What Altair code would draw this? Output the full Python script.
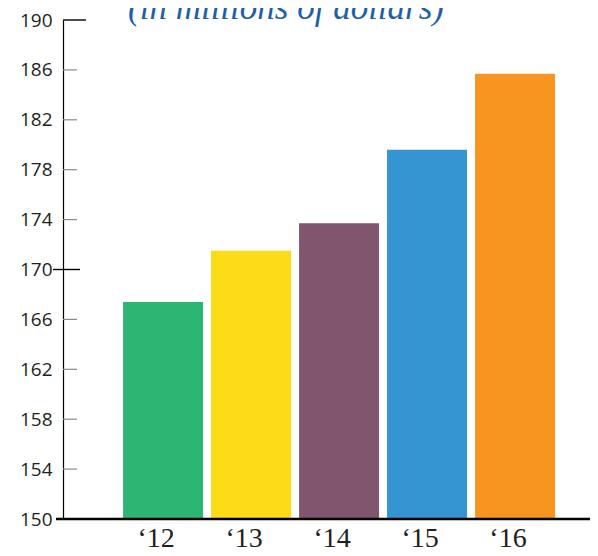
import altair as alt
import pandas as pd

years = ["\u201812", "\u201813", "\u201814", "\u201815", "\u201816"]
values = [167.4, 171.5, 173.7, 179.6, 185.7]
colors = ["#2db673", "#fddc17", "#82556f", "#3595d2", "#f79520"]
y_ticks = [150, 154, 158, 162, 166, 170, 174, 178, 182, 186, 190]
minor_ticks = [154, 158, 162, 166, 174, 178, 182, 186]
title_text = "(in millions of dollars)"

df = pd.DataFrame({"year": years, "value": values})

W, H = 527, 499

yscale = alt.Scale(domain=[150, 190], nice=False, zero=False)

bars = alt.Chart(df).mark_bar(clip=True).encode(
    x=alt.X("year:N", sort=years,
            scale=alt.Scale(paddingInner=0.0909, paddingOuter=0.540, align=0.632),
            axis=alt.Axis(title=None, domain=False, ticks=False, labelAngle=0,
                          labelFont="Liberation Serif", labelFontSize=28,
                          labelColor="#231f20", labelPadding=5, labelOffset=-7)),
    y=alt.Y("value:Q", scale=yscale,
            axis=alt.Axis(title=None, values=y_ticks, ticks=False, grid=False,
                          domainColor="#000000", domainWidth=1.2,
                          labelFont="Open Sans", labelFontSize=19,
                          labelColor="#231f20", labelPadding=11)),
    y2=alt.datum(150),
    color=alt.Color("year:N", scale=alt.Scale(domain=years, range=colors), legend=None),
)

minor = alt.Chart(pd.DataFrame({"v": minor_ticks})).mark_rule(color="#8a8a8a", strokeWidth=1.2).encode(
    y=alt.Y("v:Q", scale=yscale), x=alt.value(0), x2=alt.value(14)
)

top_tick = alt.Chart(pd.DataFrame({"v": [190]})).mark_rule(color="#000000", strokeWidth=1.4).encode(
    y=alt.Y("v:Q", scale=yscale), x=alt.value(0), x2=alt.value(23)
)

mid_tick = alt.Chart(pd.DataFrame({"v": [170]})).mark_rule(color="#000000", strokeWidth=1.4).encode(
    y=alt.Y("v:Q", scale=yscale), x=alt.value(-10), x2=alt.value(17)
)

base_line = alt.Chart(pd.DataFrame({"v": [150]})).mark_rule(color="#000000", strokeWidth=2.6).encode(
    y=alt.Y("v:Q", scale=yscale), x=alt.value(-7), x2=alt.value(W)
)

title = alt.Chart(pd.DataFrame({"t": [title_text]})).mark_text(
    font="Liberation Serif", fontStyle="italic", fontSize=35, color="#1d5fa9",
    align="center", baseline="alphabetic"
).encode(text="t:N", x=alt.value(223), y=alt.value(-1))

chart = alt.layer(bars, minor, top_tick, mid_tick, base_line, title).properties(
    width=W, height=H,
    autosize=alt.AutoSizeParams(type="none"),
    padding={"left": 55, "top": 12, "right": 0, "bottom": 29},
).configure_view(stroke=None)

chart.save("out.html", embed_options={"renderer": "svg", "actions": False})
